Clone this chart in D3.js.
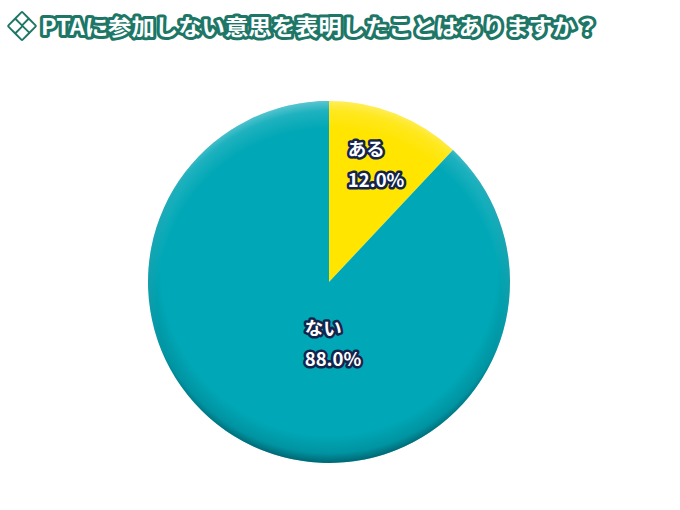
<!DOCTYPE html>
<html><head><meta charset="utf-8">
<script src="https://cdn.jsdelivr.net/npm/d3@7"></script>
<style>html,body{margin:0;padding:0;background:#fff;}svg{display:block;}</style>
</head><body>
<svg id="c" width="680" height="510"></svg>
<script>
const title = "PTAに参加しない意思を表明したことはありますか？";
const categories = ["ある", "ない"];
const values = [12.0, 88.0];
const valueLabels = ["12.0%", "88.0%"];
const colors = ["#ffe500", "#00a7b6"];

const W = 680, H = 510;
const cx = 329, cy = 282, R = 181;
const svg = d3.select("#c");
const defs = svg.append("defs");

// title
const titleStroke = "#1d7666";
const tg = svg.append("g");
const dia = tg.append("g").attr("transform", "translate(22,26)");
[[0,-6.8],[6.8,0],[0,6.8],[-6.8,0]].forEach(([dx,dy])=>{
  dia.append("rect").attr("x",-4.3).attr("y",-4.3).attr("width",8.6).attr("height",8.6)
    .attr("transform",`translate(${dx},${dy}) rotate(45)`)
    .attr("fill","#ffffff").attr("stroke",titleStroke).attr("stroke-width",3.8)
    .attr("stroke-linejoin","round").attr("paint-order","stroke");
});
tg.append("text").attr("x",41).attr("y",35)
  .attr("font-family","'Noto Sans CJK JP'").attr("font-weight",700).attr("font-size",22)
  .attr("textLength",558).attr("lengthAdjust","spacingAndGlyphs")
  .attr("fill","#ffffff").attr("stroke",titleStroke).attr("stroke-width",6)
  .attr("stroke-linejoin","round").attr("paint-order","stroke")
  .text(title);

// pie
const pie = d3.pie().sort(null).value(d=>d)(values);
const arc = d3.arc().innerRadius(0).outerRadius(R);
const g = svg.append("g").attr("transform",`translate(${cx},${cy})`);
g.selectAll("path.s").data(pie).join("path").attr("class","s")
  .attr("d",arc).attr("fill",(d,i)=>colors[i]);

// shading: dark bottom rim
const gs = defs.append("radialGradient").attr("id","shade")
  .attr("cx","50%").attr("cy","46%").attr("r","54%").attr("fx","50%").attr("fy","46%");
gs.append("stop").attr("offset","0.86").attr("stop-color","#003a44").attr("stop-opacity",0);
gs.append("stop").attr("offset","0.95").attr("stop-color","#003a44").attr("stop-opacity",0.18);
gs.append("stop").attr("offset","1").attr("stop-color","#003a44").attr("stop-opacity",0.6);
g.append("circle").attr("r",R).attr("fill","url(#shade)");
// top highlight rim
const gh = defs.append("radialGradient").attr("id","hl")
  .attr("cx","50%").attr("cy","55%").attr("r","55%").attr("fx","50%").attr("fy","55%");
gh.append("stop").attr("offset","0.86").attr("stop-color","#ffffff").attr("stop-opacity",0);
gh.append("stop").attr("offset","0.95").attr("stop-color","#ffffff").attr("stop-opacity",0.12);
gh.append("stop").attr("offset","1").attr("stop-color","#ffffff").attr("stop-opacity",0.35);
g.append("circle").attr("r",R).attr("fill","url(#hl)");

// labels
const labelPos = [
  d => d3.arc().innerRadius(128).outerRadius(128).centroid(d),
  d => [4, 60]
];
pie.forEach((d,i)=>{
  const [lx, ly] = labelPos[i](d);
  const t = g.append("text").attr("font-family","'Noto Sans CJK JP'").attr("font-weight",700)
    .attr("font-size",18.5).attr("fill","#ffffff").attr("stroke","#14244c").attr("stroke-width",5)
    .attr("stroke-linejoin","round").attr("paint-order","stroke");
  const t1 = t.append("tspan").text(categories[i]);
  const t2 = t.append("tspan").text(valueLabels[i]);
  const w = Math.max(t1.node().getComputedTextLength(), t2.node().getComputedTextLength());
  const x0 = lx - w/2;
  t1.attr("x",x0).attr("y",ly-7);
  t2.attr("x",x0).attr("y",ly+24);
});
</script>
</body></html>
